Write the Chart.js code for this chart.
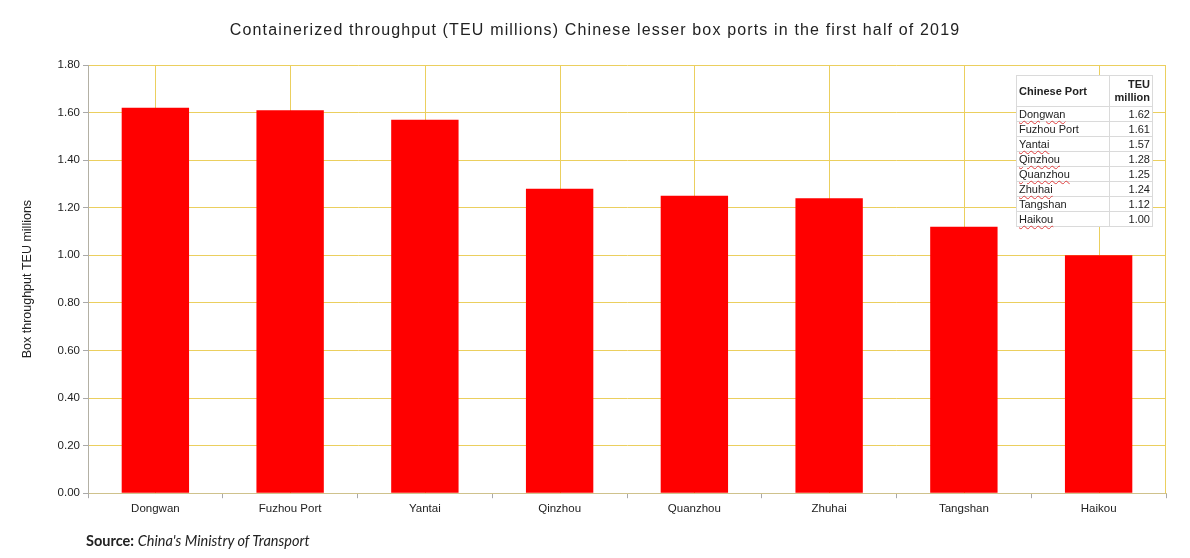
<!DOCTYPE html>
<html>
<head>
<meta charset="utf-8">
<script src="https://cdn.jsdelivr.net/npm/chart.js@4"></script>
<style>
  html, body { margin: 0; padding: 0; background: #fff; }
  #wrap { position: relative; width: 1190px; height: 558px; }
  #chart { position: absolute; left: 0; top: 0; }
  #title {
    position: absolute; left: 0; width: 1190px; top: 21px; text-align: center;
    font-family: "Liberation Sans", Arial, sans-serif; font-size: 16px; letter-spacing: 1.15px; color: #222;
  }
  #portTable {
    position: absolute; left: 1016px; top: 75px;
    border-collapse: collapse; background: #fff;
    font-family: "Liberation Sans", Arial, sans-serif; font-size: 11px; color: #222;
  }
  #portTable td, #portTable th { border: 1px solid #dadada; padding: 0 2px; height: 14px; line-height: 13px; }
  #portTable th { font-weight: bold; height: 30px; vertical-align: middle; }
  #portTable th.name { text-align: left; width: 88px; }
  #portTable th.val, #portTable td.val { text-align: right; width: 38px; }
  #portTable td.name { text-align: left; }
  .spell { text-decoration: underline wavy #e04040; text-decoration-thickness: 1px; text-underline-offset: 2px; }
  #source {
    position: absolute; left: 86px; top: 532px;
    font-family: Lato, "Open Sans", sans-serif; font-size: 14.5px; color: #222;
  }
</style>
</head>
<body>
<div id="wrap">
  <canvas id="chart" width="1190" height="558"></canvas>
  <div id="title">Containerized throughput (TEU millions) Chinese lesser box ports in the first half of 2019</div>
  <table id="portTable"></table>
  <div id="source"><b>Source:</b> <i>China's Ministry of Transport</i></div>
</div>
<script>
const ports = ["Dongwan", "Fuzhou Port", "Yantai", "Qinzhou", "Quanzhou", "Zhuhai", "Tangshan", "Haikou"];
const teuMillions = [1.62, 1.61, 1.57, 1.28, 1.25, 1.24, 1.12, 1.00];
const yTicks = [0, 0.2, 0.4, 0.6, 0.8, 1.0, 1.2, 1.4, 1.6, 1.8];
// names the spreadsheet spell-checker flagged in the original screenshot
const flagged = ["Dongwan", "Yantai", "Qinzhou", "Quanzhou", "Zhuhai", "Haikou"];

const gridYellow = "#ebcf5e";
const font = "'Liberation Sans', Arial, sans-serif";

// little table in the corner, built from the same arrays
const table = document.getElementById("portTable");
let html = '<tr><th class="name">Chinese Port</th><th class="val">TEU<br>million</th></tr>';
ports.forEach((p, i) => {
  const cls = flagged.includes(p) ? "spell" : "";
  html += `<tr><td class="name"><span class="${cls}">${p}</span></td><td class="val">${teuMillions[i].toFixed(2)}</td></tr>`;
});
table.innerHTML = html;

// vertical grid lines through the category centres + right frame line
const centreLines = {
  id: "centreLines",
  beforeDatasetsDraw(chart) {
    const { ctx, chartArea, scales } = chart;
    ctx.save();
    ctx.strokeStyle = gridYellow;
    ctx.lineWidth = 1;
    ctx.beginPath();
    ports.forEach((p, i) => {
      const x = Math.round(scales.x.getPixelForValue(i)) + 0.5;
      ctx.moveTo(x, chartArea.top);
      ctx.lineTo(x, chartArea.bottom);
    });
    const r = Math.round(chartArea.right) - 0.5;
    ctx.moveTo(r, chartArea.top);
    ctx.lineTo(r, chartArea.bottom);
    ctx.stroke();
    ctx.restore();
  }
};

new Chart(document.getElementById("chart"), {
  type: "bar",
  data: {
    labels: ports,
    datasets: [{
      data: teuMillions,
      backgroundColor: "#ff0000",
      borderColor: "#e60000",
      borderWidth: { top: 0, left: 0, right: 0, bottom: 1 },
      barPercentage: 0.5,
      categoryPercentage: 1.0
    }]
  },
  options: {
    responsive: false,
    animation: false,
    layout: { padding: { left: 14, right: 24, top: 65, bottom: 38 } },
    plugins: {
      legend: { display: false },
      tooltip: { enabled: false },
      title: { display: false }
    },
    scales: {
      x: {
        offset: true,
        border: { color: "#cfc28c" },
        grid: { offset: true, drawOnChartArea: false, tickLength: 5, tickColor: "#a9a9a9" },
        ticks: { color: "#222", font: { family: font, size: 11.5 }, padding: 4, maxRotation: 0 }
      },
      y: {
        min: 0,
        max: 1.8,
        afterBuildTicks(scale) { scale.ticks = yTicks.map(v => ({ value: v })); },
        afterFit(scale) { scale.width = 74; },
        border: { color: "#b3b0a4" },
        grid: { color: gridYellow, tickLength: 5, tickColor: "#a9a9a9" },
        ticks: {
          color: "#222",
          font: { family: font, size: 11.5 },
          padding: 3,
          callback: v => Number(v).toFixed(2)
        },
        title: {
          display: true,
          text: "Box throughput TEU millions",
          color: "#222",
          font: { family: font, size: 12.5 },
          padding: { top: 6, bottom: 0 }
        }
      }
    }
  },
  plugins: [centreLines]
});
</script>
</body>
</html>
